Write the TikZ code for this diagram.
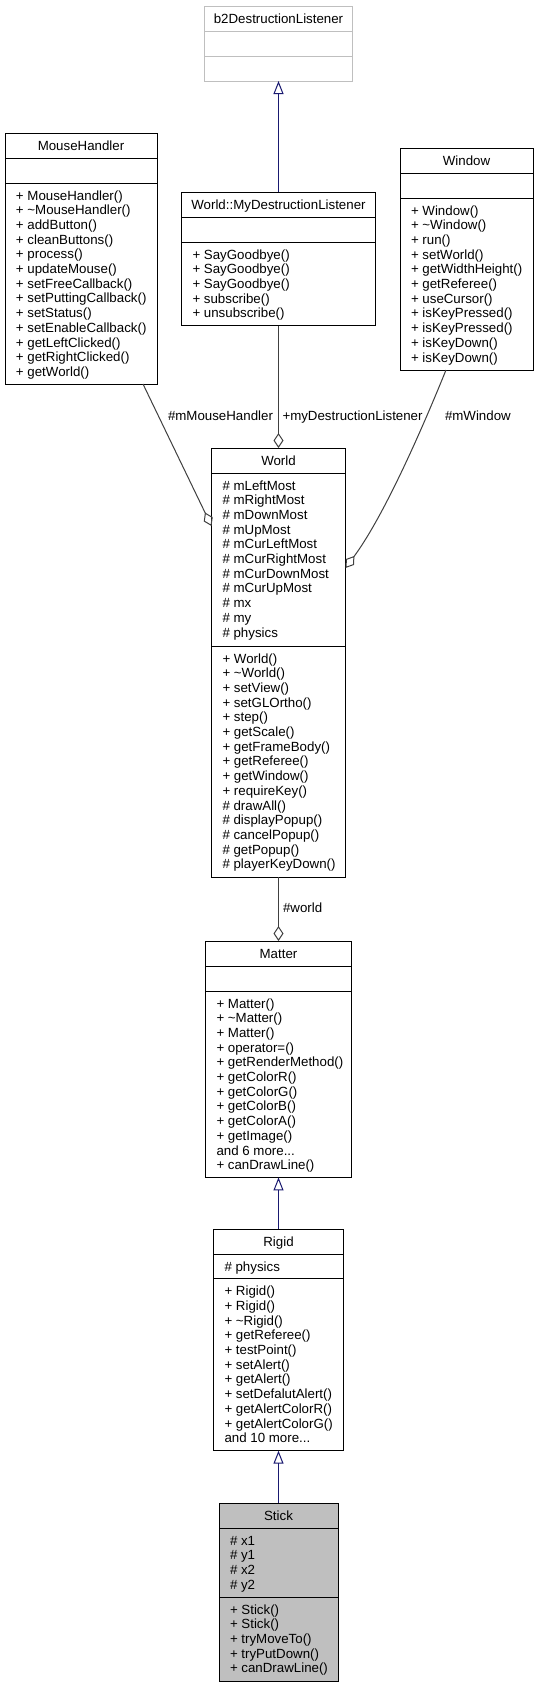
\documentclass[tikz,border=0pt]{standalone}
\usepackage{fontspec}
\setmainfont{Liberation Sans}
\usetikzlibrary{arrows.meta}
\definecolor{inhcol}{RGB}{25,25,112}
\definecolor{aggcol}{RGB}{64,64,64}
\definecolor{boxgray}{RGB}{191,191,191}
\newcommand\threedots{...}
\newcommand\mlist[4]{\foreach \t [count=\i] in {#4} {\node[mem] (#1\i) at ({#2},{#3+5+(\i-0.5)*14.7+4.7}) {\t};}}
\newcommand\hsep[3][black]{\draw[line width=1pt,#1] (#2.west |- 0,#3) -- (#2.east |- 0,#3);}
\begin{document}
\begin{tikzpicture}[x=1pt,y=-1pt,
  every node/.style={font=\fontsize{13.3}{15}\selectfont, inner sep=0pt, outer sep=0pt},
  classbox/.style={draw=black, line width=1pt, fill=white, rectangle, inner sep=0pt, outer sep=0pt},
  mem/.style={anchor=base west},
  ttl/.style={anchor=base},
  lbl/.style={anchor=base west},
  inh/.style={draw=inhcol, line width=1pt, -{Triangle[open,length=13pt,width=10pt]}},
  agg/.style={draw=aggcol, line width=1pt, -{Diamond[open,length=15pt,width=10pt]}},
]
\useasboundingbox[fill=white] (0,0) rectangle (538,1687);

% b2DestructionListener
\node[classbox, draw=boxgray, minimum width=148pt, minimum height=75pt] (b2) at (278.5,43.5) {};
\hsep[boxgray]{b2}{31}\hsep[boxgray]{b2}{56}
\node[ttl] (b2t) at (278.5,{6+12.5+4.7}) {b2DestructionListener};

% MouseHandler
\node[classbox, minimum width=152pt, minimum height=251pt] (mouse) at (81,258.5) {};
\hsep{mouse}{158}\hsep{mouse}{183}
\node[ttl] (mouset) at (81,{133+12.5+4.7}) {MouseHandler};
\mlist{mousem}{16}{183}{+ MouseHandler(), + \textasciitilde MouseHandler(), + addButton(), + cleanButtons(), + process(), + updateMouse(), + setFreeCallback(), + setPuttingCallback(), + setStatus(), + setEnableCallback(), + getLeftClicked(), + getRightClicked(), + getWorld()}

% World::MyDestructionListener
\node[classbox, minimum width=194pt, minimum height=133.5pt] (mydl) at (278.5,258.75) {};
\hsep{mydl}{217}\hsep{mydl}{242}
\node[ttl] (mydlt) at (278.5,{192+12.5+4.7}) {World::MyDestructionListener};
\mlist{mydlm}{192.5}{242}{+ SayGoodbye(), + SayGoodbye(), + SayGoodbye(), + subscribe(), + unsubscribe()}

% Window
\node[classbox, minimum width=133pt, minimum height=222pt] (window) at (466.5,259) {};
\hsep{window}{173}\hsep{window}{198}
\node[ttl] (windowt) at (466.5,{148+12.5+4.7}) {Window};
\mlist{windowm}{411}{198}{+ Window(), + \textasciitilde Window(), + run(), + setWorld(), + getWidthHeight(), + getReferee(), + useCursor(), + isKeyPressed(), + isKeyPressed(), + isKeyDown(), + isKeyDown()}

% World
\node[classbox, minimum width=134pt, minimum height=429pt] (world) at (278.5,662.5) {};
\hsep{world}{473}\hsep{world}{646}
\node[ttl] (worldt) at (278.5,{448+12.5+4.7}) {World};
\mlist{worlda}{222.5}{473}{\# mLeftMost, \# mRightMost, \# mDownMost, \# mUpMost, \# mCurLeftMost, \# mCurRightMost, \# mCurDownMost, \# mCurUpMost, \# mx, \# my, \# physics}
\mlist{worldm}{222.5}{646}{+ World(), + \textasciitilde World(), + setView(), + setGLOrtho(), + step(), + getScale(), + getFrameBody(), + getReferee(), + getWindow(), + requireKey(), \# drawAll(), \# displayPopup(), \# cancelPopup(), \# getPopup(), \# playerKeyDown()}

% Matter
\node[classbox, minimum width=146pt, minimum height=236.4pt] (matter) at (278.5,1059.2) {};
\hsep{matter}{966}\hsep{matter}{991}
\node[ttl] (mattert) at (278.5,{941+12.5+4.7}) {Matter};
\mlist{matterm}{216.5}{991}{+ Matter(), + \textasciitilde Matter(), + Matter(), + operator=(), + getRenderMethod(), + getColorR(), + getColorG(), + getColorB(), + getColorA(), + getImage(), and 6 more\threedots, + canDrawLine()}

% Rigid
\node[classbox, minimum width=130pt, minimum height=221.7pt] (rigid) at (278.5,1339.85) {};
\hsep{rigid}{1254}\hsep{rigid}{1278.7}
\node[ttl] (rigidt) at (278.5,{1229+12.5+4.7}) {Rigid};
\mlist{rigida}{224.5}{1254}{\# physics}
\mlist{rigidm}{224.5}{1278.7}{+ Rigid(), + Rigid(), + \textasciitilde Rigid(), + getReferee(), + testPoint(), + setAlert(), + getAlert(), + setDefalutAlert(), + getAlertColorR(), + getAlertColorG(), and 10 more\threedots}

% Stick
\node[classbox, fill=boxgray, minimum width=119pt, minimum height=178pt] (stick) at (278.5,1592) {};
\hsep{stick}{1528}\hsep{stick}{1597}
\node[ttl] (stickt) at (278.5,{1503+12.5+4.7}) {Stick};
\mlist{sticka}{230}{1528}{\# x1, \# y1, \# x2, \# y2}
\mlist{stickm}{230}{1597}{+ Stick(), + Stick(), + tryMoveTo(), + tryPutDown(), + canDrawLine()}

% connectors
\draw[inh] (mydl.north) -- (b2.south);
\draw[agg] (mydl.south) -- (world.north);
\coordinate (mhs) at ([xshift=62pt]mouse.south);
\coordinate (mhe) at ([yshift=-78pt]world.north west);
\draw[agg] (mhs) -- (mhe);
\coordinate (wns) at ([xshift=-20.5pt]window.south);
\coordinate (wne) at ([yshift=-120pt]world.north east);
\draw[agg] (wns) .. controls (416,444) and (381,520) .. (wne);
\draw[agg] (world.south) -- (matter.north);
\draw[inh] (rigid.north) -- (matter.south);
\draw[inh] (stick.north) -- (rigid.south);

% labels
\node[lbl] (lblmh) at (168,420.7) {\#mMouseHandler};
\node[lbl] (lbldl) at (282.5,420.7) {+myDestructionListener};
\node[lbl] (lblwin) at (445,420.7) {\#mWindow};
\node[lbl] (lblworld) at (283,912.7) {\#world};
\end{tikzpicture}
\end{document}
